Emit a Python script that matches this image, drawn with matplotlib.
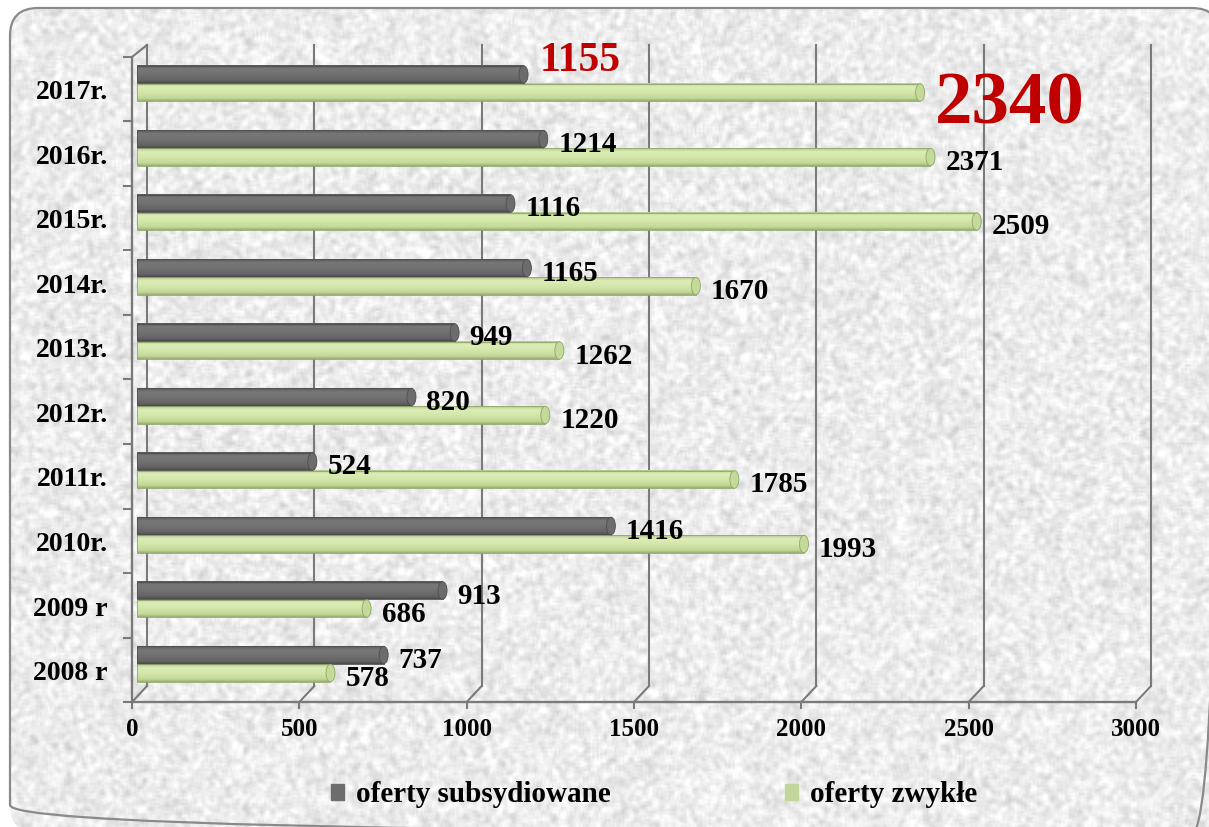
import numpy as np
import matplotlib.pyplot as plt
from matplotlib.patches import FancyBboxPatch, Ellipse, Rectangle, Patch

years = ['2008 r', '2009 r', '2010r.', '2011r.', '2012r.',
         '2013r.', '2014r.', '2015r.', '2016r.', '2017r.']
subsidized = [737, 913, 1416, 524, 820, 949, 1165, 1116, 1214, 1155]
regular = [578, 686, 1993, 1785, 1220, 1262, 1670, 2509, 2371, 2340]
x_ticks = [0, 500, 1000, 1500, 2000, 2500, 3000]
legend_labels = ['oferty subsydiowane', 'oferty zwykłe']

W, H = 1209, 827
FONT = 'Liberation Serif'
GRID = '#7a7a7a'

fig = plt.figure(figsize=(W / 100, H / 100), dpi=100, facecolor='white')

# background: rounded frame with a light granite texture
bg = fig.add_axes([0, 0, 1, 1], zorder=0)
bg.set_xlim(0, W)
bg.set_ylim(H, 0)
bg.axis('off')
frame = FancyBboxPatch((10, 8), 1210, 825, boxstyle='round,pad=0,rounding_size=28',
                       facecolor='none', edgecolor='#8a8a8a', lw=1.6, zorder=3)
bg.add_patch(frame)
rng = np.random.default_rng(7)
tex = rng.random((H // 2 + 6, W // 2 + 6))
k = np.ones(3) / 3
tex = np.apply_along_axis(lambda r: np.convolve(r, k, mode='same'), 1, tex)
tex = np.apply_along_axis(lambda c: np.convolve(c, k, mode='same'), 0, tex)
tex = (tex - tex.mean()) / tex.std()
shade = np.clip(0.925 + 0.035 * tex[3:-3, 3:-3], 0, 1)
img = bg.imshow(shade, cmap='gray', vmin=0, vmax=1, extent=(0, W, H, 0),
                interpolation='bilinear', aspect='auto', zorder=1)
img.set_clip_path(frame)

# main plot area (x: values, y: category index)
ax = fig.add_axes([137 / W, (H - 702) / H, 1004 / W, 657 / H], zorder=1)
ax.set_facecolor('none')
ux = 3000 / 1004      # data units per pixel along x
uy = 1 / 64.5         # data units per pixel along y
y_lo, y_hi = -38 * uy, 619 * uy
front = -5 * ux
back = 10 * ux
back_floor = y_lo + 16 * uy

# pseudo-3D walls
for t in x_ticks:
    ax.plot([t + back, t + back], [back_floor, y_hi], color=GRID, lw=1.5, clip_on=False, zorder=1)
    ax.plot([t + front, t + back], [y_lo, back_floor], color=GRID, lw=1.5, clip_on=False, zorder=1)
    ax.plot([t + front, t + front], [y_lo, y_lo - 6 * uy], color=GRID, lw=1.5, clip_on=False, zorder=1)
    ax.text(t + front, y_lo - 28 * uy, str(t), fontsize=18, fontweight='bold', family=FONT,
            ha='center', va='center', clip_on=False)
ax.plot([front, 3000 + front], [y_lo, y_lo], color=GRID, lw=1.7, clip_on=False, zorder=1)
front_top = y_lo + 645 * uy
ax.plot([front, front], [y_lo, front_top], color=GRID, lw=1.7, clip_on=False, zorder=1)
ax.plot([front, back], [front_top, y_hi], color=GRID, lw=1.5, clip_on=False, zorder=1)
for kk in range(11):
    yy = y_lo + kk * 64.5 * uy
    ax.plot([front - 8 * ux, front], [yy, yy], color=GRID, lw=1.5, clip_on=False, zorder=1)


def cylinder(y, v, h, stops, edge, cap):
    pos = np.linspace(0, 1, 40)
    st = np.array([s[0] for s in stops])
    cols = np.array([[int(s[1][i:i + 2], 16) / 255 for i in (1, 3, 5)] for s in stops])
    grad = np.stack([np.interp(pos, st, cols[:, c]) for c in range(3)], axis=1)[:, None, :]
    ax.imshow(grad, extent=(0, v, y - h / 2, y + h / 2), aspect='auto',
              interpolation='bilinear', zorder=3)
    ax.add_patch(Rectangle((0, y - h / 2), v, h, fill=False, edgecolor=edge, lw=0.6, zorder=4))
    ax.add_patch(Ellipse((v, y), 9 * ux, h, facecolor=cap, edgecolor=edge, lw=0.6, zorder=5))


gray_stops = [(0, '#5a5a5a'), (0.2, '#777777'), (0.5, '#727272'), (0.85, '#646464'), (1, '#4c4c4c')]
green_stops = [(0, '#b2c98c'), (0.2, '#dcedb6'), (0.5, '#d4e7aa'), (0.85, '#c2d898'), (1, '#98b070')]
bar_h = 17.5 * uy
off = 9 * uy

for i, (s, r) in enumerate(zip(subsidized, regular)):
    yg, yz = i + off, i - off
    cylinder(yg, s, bar_h, gray_stops, '#4e4e4e', '#6c6c6c')
    cylinder(yz, r, bar_h, green_stops, '#8fa768', '#c4d99a')
    if i == len(years) - 1:
        ax.text(s + 16 * ux, yg + 3 * uy, str(s), color='#c00000', fontsize=30,
                fontweight='bold', family=FONT, va='baseline', ha='left', zorder=6)
        ax.text(r + 15 * ux, yz - 31 * uy, str(r), color='#c00000', fontsize=54,
                fontweight='bold', family=FONT, va='baseline', ha='left', zorder=6)
    else:
        ax.text(s + 15 * ux, yg - 13 * uy, str(s), fontsize=21, fontweight='bold',
                family=FONT, va='baseline', ha='left', zorder=6)
        ax.text(r + 15 * ux, yz - 13 * uy, str(r), fontsize=21, fontweight='bold',
                family=FONT, va='baseline', ha='left', zorder=6)

ax.set_xticks([])
ax.set_yticks([i - 6.5 * uy for i in range(len(years))], labels=years)
ax.tick_params(axis='y', length=0, pad=21)
for lab in ax.get_yticklabels():
    lab.set_fontsize(20)
    lab.set_fontweight('bold')
    lab.set_family(FONT)
for sp in ax.spines.values():
    sp.set_visible(False)
ax.set_xlim(0, 3000)
ax.set_ylim(y_lo, y_hi)

handles = [Patch(color='#6d6d6d'), Patch(color='#c3d69b')]
fig.legend(handles, legend_labels, loc='center', bbox_to_anchor=(654 / W, 32 / H), ncol=2,
           frameon=False, prop=dict(family=FONT, weight='bold', size=21),
           handlelength=0.45, handleheight=0.45, handletextpad=0.4, columnspacing=6)

fig.savefig('out.png', dpi=100)
